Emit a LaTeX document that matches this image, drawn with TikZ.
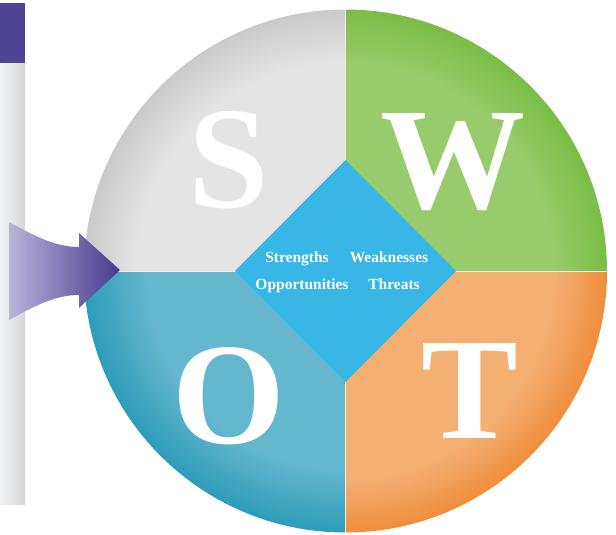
\documentclass[tikz,border=0pt]{standalone}
\usepackage{fontspec}
\setmainfont{Liberation Serif}
\usetikzlibrary{shapes.geometric}
\definecolor{grayA}{HTML}{E4E4E4}
\definecolor{grayB}{HTML}{CACACA}
\definecolor{greenA}{HTML}{98CB6B}
\definecolor{greenB}{HTML}{7ABD45}
\definecolor{orangeA}{HTML}{F4AF73}
\definecolor{orangeB}{HTML}{EF8E3C}
\definecolor{tealA}{HTML}{64B8CD}
\definecolor{tealB}{HTML}{2E9BBA}
\definecolor{diamondC}{HTML}{38B6E6}
\definecolor{purpleL}{HTML}{B8B3DB}
\definecolor{purpleD}{HTML}{48398C}
\definecolor{purpleBar}{HTML}{4F4494}
\definecolor{barL}{HTML}{F2F3F5}
\definecolor{barR}{HTML}{D6D6D7}
\pgfdeclareradialshading{grayrim}{\pgfpoint{0bp}{0bp}}{color(0bp)=(grayA); color(20bp)=(grayA); color(25bp)=(grayB); color(50bp)=(grayB)}
\pgfdeclareradialshading{greenrim}{\pgfpoint{0bp}{0bp}}{color(0bp)=(greenA); color(20bp)=(greenA); color(25bp)=(greenB); color(50bp)=(greenB)}
\pgfdeclareradialshading{orangerim}{\pgfpoint{0bp}{0bp}}{color(0bp)=(orangeA); color(20bp)=(orangeA); color(25bp)=(orangeB); color(50bp)=(orangeB)}
\pgfdeclareradialshading{tealrim}{\pgfpoint{0bp}{0bp}}{color(0bp)=(tealA); color(19bp)=(tealA); color(25bp)=(tealB); color(50bp)=(tealB)}
\tikzset{
  bigletter/.style={text=white, inner sep=0pt, anchor=base, font=\fontsize{145}{145}\selectfont\bfseries},
  smalllabel/.style={text=white, inner sep=0pt, anchor=base, font=\fontsize{15.5}{16}\selectfont\bfseries},
  divider/.style={white!85!gray, line width=0.8pt}
}
\begin{document}
\begin{tikzpicture}[x=1pt, y=-1pt]
\useasboundingbox (0,0) rectangle (616,535);
% left bar
\shade[left color=barL, right color=barR] (0,63) rectangle (25,504);
\fill[purpleBar] (0,3) rectangle (25,63);
% circle quadrants
\coordinate (C) at (345.5,271);
\begin{scope}
  \clip (0,0) rectangle (345.5,271);
  \shade[shading=grayrim] (C) circle (261.5);
\end{scope}
\begin{scope}
  \clip (345.5,0) rectangle (616,271);
  \shade[shading=greenrim] (C) circle (261.5);
\end{scope}
\begin{scope}
  \clip (345.5,271) rectangle (616,535);
  \shade[shading=orangerim] (C) circle (261.5);
\end{scope}
\begin{scope}
  \clip (0,271) rectangle (345.5,535);
  \shade[shading=tealrim] (C) circle (261.5);
\end{scope}
\draw[divider] (345.5,9.5) -- (345.5,532.5);
\draw[divider] (84,271) -- (607,271);
% diamond
\fill[diamondC] (345.5,160) -- (456,271) -- (345.5,382) -- (235,271) -- cycle;
% arrow
\shade[left color=purpleL, right color=purpleD]
  (9,222) .. controls (35,236) and (55,247) .. (79,247) -- (79,233) -- (120,270)
  -- (79,308) -- (79,295) .. controls (55,295) and (35,306) .. (9,320) -- cycle;
% letters
\node[bigletter] (S) at (229,207) {S};
\node[bigletter] (W) at (453,208) {W};
\node[bigletter] (O) at (229,443) {O};
\node[bigletter] (T) at (470,438) {T};
% labels
\node[smalllabel] (str) at (297,262) {Strengths};
\node[smalllabel] (wea) at (389,262) {Weaknesses};
\node[smalllabel] (opp) at (302,289) {Opportunities};
\node[smalllabel] (thr) at (394,289) {Threats};
\end{tikzpicture}
\end{document}
